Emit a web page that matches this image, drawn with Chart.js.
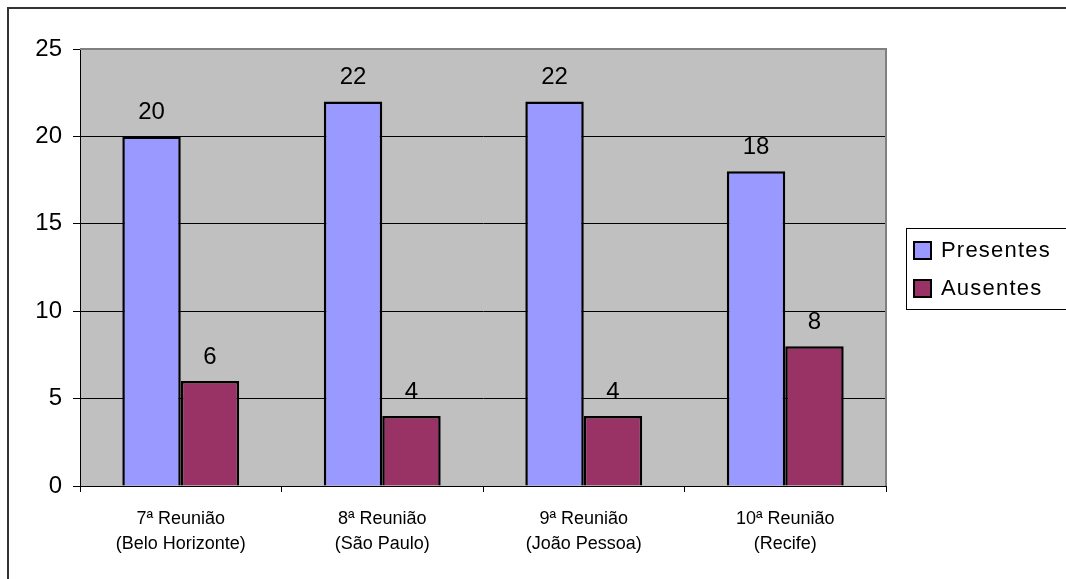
<!DOCTYPE html>
<html>
<head>
<meta charset="utf-8">
<script src="https://cdn.jsdelivr.net/npm/chart.js@4/dist/chart.umd.min.js"></script>
<style>
html,body{margin:0;padding:0;background:#fff;}
#wrap{width:1066px;height:579px;position:relative;}
</style>
</head>
<body>
<div id="wrap"><canvas id="c" width="1066" height="579"></canvas></div>
<script>
const categories = [
  ["7ª Reunião", "(Belo Horizonte)"],
  ["8ª Reunião", "(São Paulo)"],
  ["9ª Reunião", "(João Pessoa)"],
  ["10ª Reunião", "(Recife)"]
];
const presentes = [20, 22, 22, 18];
const ausentes = [6, 4, 4, 8];
const seriesNames = ["Presentes", "Ausentes"];
const seriesColors = ["#9999ff", "#993366"];
const yTicks = [0, 5, 10, 15, 20, 25];

const FONT = "'Liberation Sans', Arial, sans-serif";

const decor = {
  id: 'decor',
  beforeDraw(chart) {
    const ctx = chart.ctx, a = chart.chartArea;
    ctx.save();
    ctx.fillStyle = '#fff';
    ctx.fillRect(0, 0, chart.width, chart.height);
    ctx.fillStyle = '#c0c0c0';
    ctx.fillRect(a.left, a.top, a.right - a.left, a.bottom - a.top);
    // outer frame (top and left visible)
    ctx.strokeStyle = '#333';
    ctx.lineWidth = 2;
    ctx.beginPath();
    ctx.moveTo(1066, 8);
    ctx.lineTo(8, 8);
    ctx.lineTo(8, 579);
    ctx.stroke();
    ctx.restore();
  },
  afterDraw(chart) {
    const ctx = chart.ctx, a = chart.chartArea;
    ctx.save();
    ctx.strokeStyle = '#808080';
    ctx.lineWidth = 2;
    ctx.beginPath();
    ctx.moveTo(a.left, a.top);
    ctx.lineTo(a.right, a.top);
    ctx.lineTo(a.right, a.bottom);
    ctx.stroke();
    // legend
    ctx.strokeStyle = '#000';
    ctx.lineWidth = 1;
    ctx.strokeRect(906.5, 228.5, 160, 81);
    const ys = [250, 288];
    ctx.font = '22px ' + FONT;
    ctx.textBaseline = 'middle';
    ctx.textAlign = 'left';
    for (let i = 0; i < seriesNames.length; i++) {
      ctx.fillStyle = seriesColors[i];
      ctx.fillRect(913, ys[i] - 9, 19, 19);
      ctx.strokeStyle = '#000';
      ctx.lineWidth = 2;
      ctx.strokeRect(914, ys[i] - 8, 17, 17);
      ctx.fillStyle = '#000';
      if ('letterSpacing' in ctx) ctx.letterSpacing = '1.2px';
      ctx.fillText(seriesNames[i], 941, ys[i] + 1);
      if ('letterSpacing' in ctx) ctx.letterSpacing = '0px';
    }
    ctx.restore();
  },
  afterDatasetsDraw(chart) {
    const ctx = chart.ctx;
    ctx.save();
    ctx.font = '24px ' + FONT;
    ctx.fillStyle = '#000';
    ctx.textAlign = 'center';
    ctx.textBaseline = 'middle';
    chart.data.datasets.forEach((ds, di) => {
      chart.getDatasetMeta(di).data.forEach((bar, i) => {
        ctx.fillText(String(ds.data[i]), bar.x, bar.y - 24);
      });
    });
    ctx.restore();
  }
};

new Chart(document.getElementById('c'), {
  type: 'bar',
  data: {
    labels: categories,
    datasets: [
      { label: seriesNames[0], data: presentes, backgroundColor: seriesColors[0], borderColor: '#000', borderWidth: 2.5 },
      { label: seriesNames[1], data: ausentes, backgroundColor: seriesColors[1], borderColor: '#000', borderWidth: 2.5 }
    ]
  },
  options: {
    responsive: false,
    animation: false,
    devicePixelRatio: 1,
    layout: { padding: { left: 0, top: 49, right: 180, bottom: 0 } },
    datasets: { bar: { categoryPercentage: 0.58, barPercentage: 1.0 } },
    plugins: { legend: { display: false }, tooltip: { enabled: false } },
    scales: {
      x: {
        afterFit(s) { s.height = 93; },
        grid: { offset: true, drawOnChartArea: false, drawTicks: true, tickLength: 6, color: '#000' },
        border: { display: true, color: '#000', width: 1 },
        ticks: { color: '#000', padding: 14, font: { family: FONT, size: 18, lineHeight: 1.4 } }
      },
      y: {
        min: 0, max: 25,
        afterFit(s) { s.width = 80; },
        afterBuildTicks(s) { s.ticks = yTicks.map(v => ({ value: v })); },
        grid: { color: '#000', lineWidth: 1, drawTicks: true, tickLength: 7, tickColor: '#000' },
        border: { display: true, color: '#000', width: 1 },
        ticks: { color: '#000', padding: 11, font: { family: FONT, size: 24 } }
      }
    }
  },
  plugins: [decor]
});
</script>
</body>
</html>
